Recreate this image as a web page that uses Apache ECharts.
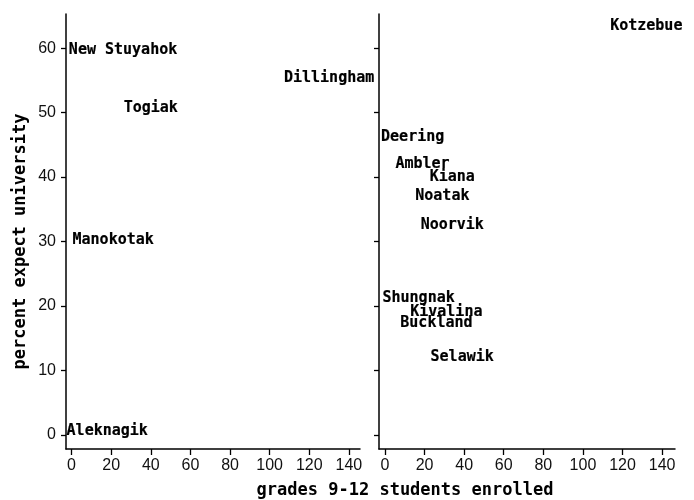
<!DOCTYPE html>
<html><head><meta charset="utf-8">
<script src="https://cdn.jsdelivr.net/npm/echarts@6/dist/echarts.min.js"></script>
<style>html,body{margin:0;padding:0;background:#fff}#c{width:694px;height:500px}</style>
</head><body><div id="c"></div>
<script>
const leftNames = ['New Stuyahok', 'Dillingham', 'Togiak', 'Manokotak', 'Aleknagik'];
const leftX = [26, 130, 40, 21, 18];
const leftY = [59.7, 55.3, 50.7, 30.2, 0.6];

const rightNames = ['Kotzebue', 'Deering', 'Ambler', 'Kiana', 'Noatak', 'Noorvik', 'Shungnak', 'Kivalina', 'Buckland', 'Selawik'];
const rightX = [132, 14, 19, 34, 29, 34, 17, 31, 26, 39];
const rightY = [63.4, 46.2, 42.0, 40.0, 37.1, 32.6, 21.2, 19.1, 17.4, 12.1];

const xTicks = [0, 20, 40, 60, 80, 100, 120, 140];
const yTicks = [0, 10, 20, 30, 40, 50, 60];
const xTitle = 'grades 9-12 students enrolled';
const yTitle = 'percent expect university';

const mono = 'DejaVu Sans Mono';
const sans = 'Liberation Sans';
const ink = '#000';

function pts(xs, ys, ns) { return xs.map((x, i) => [x, ys[i], ns[i]]); }

function xAxis(idx, min, max) {
  return {
    type: 'value', gridIndex: idx, min: min, max: max,
    splitLine: { show: false },
    axisLine: { show: true, onZero: false, lineStyle: { color: ink, width: 1.5 } },
    axisTick: { show: true, length: 6, customValues: xTicks, lineStyle: { color: ink, width: 1.3 } },
    axisLabel: { customValues: xTicks, margin: 9, color: '#111', fontFamily: sans, fontSize: 16 }
  };
}
function yAxis(idx, showLabel) {
  const a = {
    type: 'value', gridIndex: idx, min: -2.2, max: 65.3,
    splitLine: { show: false },
    axisLine: { show: true, onZero: false, lineStyle: { color: ink, width: 1.5 } },
    axisTick: { show: true, length: 5, customValues: yTicks, lineStyle: { color: ink, width: 1.3 } },
    axisLabel: { show: showLabel, customValues: yTicks, margin: 10, color: '#111', fontFamily: sans, fontSize: 16 }
  };
  if (showLabel) {
    a.name = yTitle;
    a.nameLocation = 'middle';
    a.nameGap = 37;
    a.nameTextStyle = { fontFamily: mono, fontWeight: 'bold', fontSize: 17, color: ink, padding: [0, 0, 0, -20] };
  }
  return a;
}
function series(idx, data) {
  return {
    type: 'scatter', xAxisIndex: idx, yAxisIndex: idx,
    data: data, symbolSize: 0, itemStyle: { color: '#000', opacity: 1 },
    label: {
      show: true, position: 'inside', formatter: p => p.data[2],
      fontFamily: mono, fontWeight: 'bold', fontSize: 15, color: '#000', opacity: 1,
      textBorderColor: '#000', textBorderWidth: 0.2
    },
    silent: true, animation: false
  };
}

const chart = echarts.init(document.getElementById('c'));
chart.setOption({
  backgroundColor: '#fff',
  animation: false,
  grid: [
    { left: 66, top: 14, width: 294, height: 435 },
    { left: 379, top: 14, width: 296, height: 435 }
  ],
  xAxis: [xAxis(0, -2.8, 145.6), xAxis(1, -3, 146.5)],
  yAxis: [yAxis(0, true), yAxis(1, false)],
  series: [series(0, pts(leftX, leftY, leftNames)), series(1, pts(rightX, rightY, rightNames))],
  graphic: [{
    type: 'text', x: 405, y: 491,
    style: { text: xTitle, align: 'center', verticalAlign: 'middle', fontFamily: mono, fontWeight: 'bold', fontSize: 17, fill: ink }
  }]
});
</script></body></html>
